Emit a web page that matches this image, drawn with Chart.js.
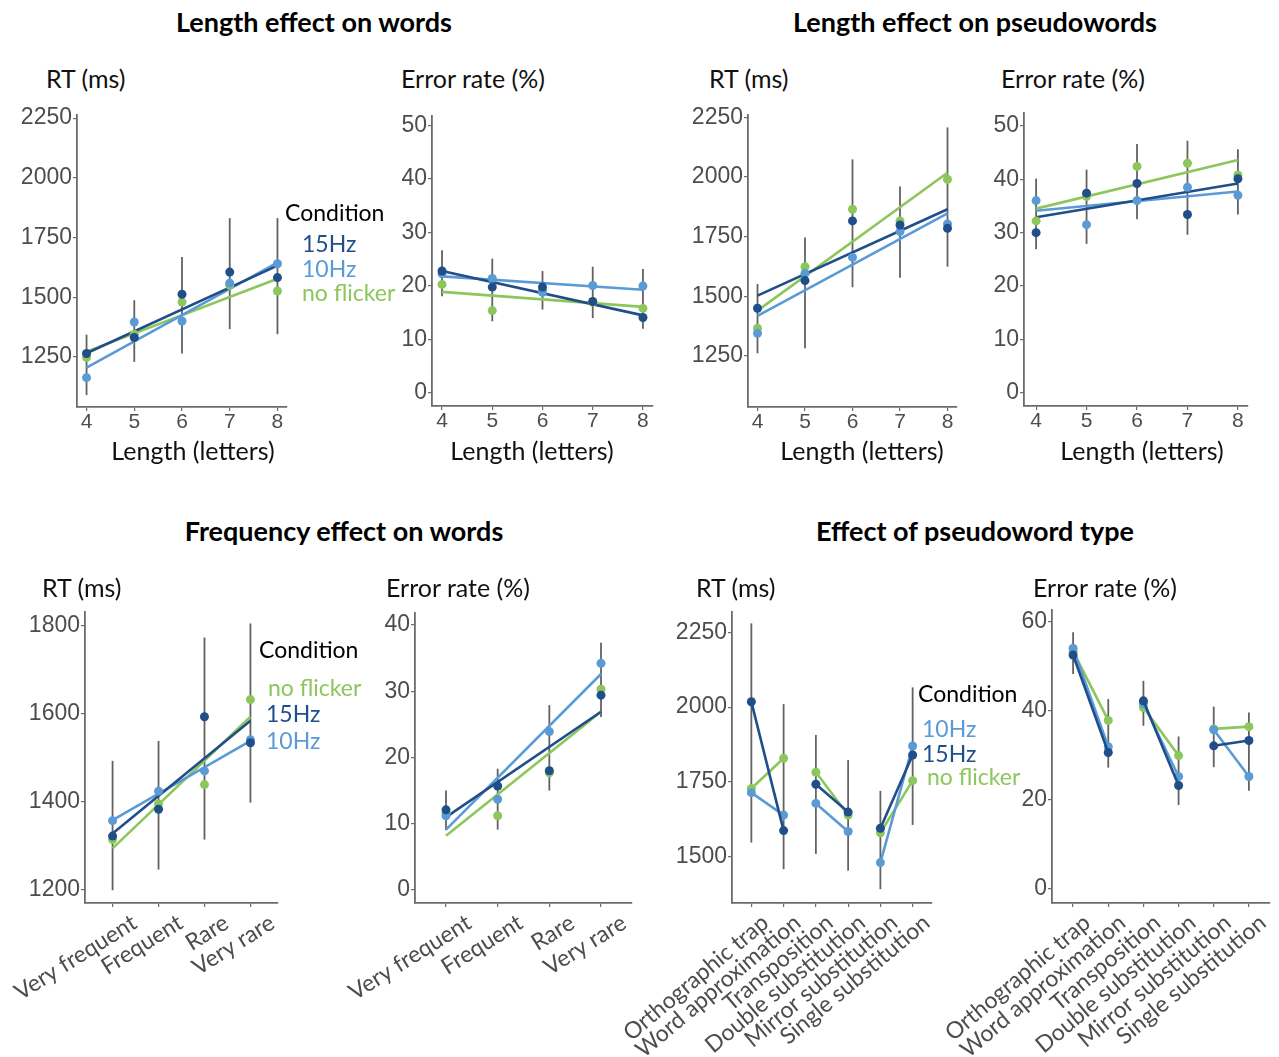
<!DOCTYPE html>
<html><head><meta charset="utf-8">
<script src="https://cdn.jsdelivr.net/npm/chart.js@4.4.1/dist/chart.umd.min.js"></script>
<style>
html,body{margin:0;padding:0;background:#fff}
body{width:1279px;height:1057px;position:relative;overflow:hidden;font-family:Lato,"Open Sans",sans-serif}
canvas{position:absolute}
.t{position:absolute;white-space:nowrap;height:30px;line-height:30px}
</style></head><body>
<script>
// ---------- DATA ----------
const conditions = ['15Hz', '10Hz', 'no flicker'];
const lengthTicks = [4, 5, 6, 7, 8];
const freqCats = ['Very frequent', 'Frequent', 'Rare', 'Very rare'];
const typeCats = ['Orthographic trap', 'Word approximation', 'Transposition', 'Double substitution', 'Mirror substitution', 'Single substitution'];
const typePairs = [1, 1, 2, 2, 3, 3];
const fitEndsLength = [4, 8];
const fitEndsFreq = [1, 4];

const rtLenTicks = [1250, 1500, 1750, 2000, 2250];
const errLenTicks = [0, 10, 20, 30, 40, 50];
const rtFreqTicks = [1200, 1400, 1600, 1800];
const errFreqTicks = [0, 10, 20, 30, 40];
const rtTypeTicks = [1500, 1750, 2000, 2250];
const errTypeTicks = [0, 20, 40, 60];

// Length effect on words - RT
const lwRT_15 = [1264, 1331, 1512, 1605, 1582];
const lwRT_10 = [1163, 1396, 1400, 1559, 1640];
const lwRT_nf = [1248, 1345, 1480, 1550, 1526];
const lwRT_lo = [1090, 1229, 1264, 1366, 1345];
const lwRT_hi = [1343, 1487, 1668, 1831, 1831];
const lwRT_fit15 = [1265, 1632];
const lwRT_fit10 = [1205, 1645];
const lwRT_fitNf = [1272, 1577];

// Length effect on words - error
const lwER_15 = [22.8, 19.8, 19.8, 17.1, 14.1];
const lwER_10 = [22.3, 21.4, 18.8, 20.1, 20.0];
const lwER_nf = [20.3, 15.4, 19.2, 17.0, 15.8];
const lwER_lo = [18.1, 13.4, 15.6, 14.0, 12.0];
const lwER_hi = [26.7, 25.1, 22.8, 23.6, 23.2];
const lwER_fit15 = [22.8, 14.5];
const lwER_fit10 = [21.8, 19.3];
const lwER_fitNf = [18.9, 16.1];

// Length effect on pseudowords - RT
const lpRT_15 = [1450, 1566, 1816, 1799, 1785];
const lpRT_10 = [1345, 1596, 1663, 1771, 1803];
const lpRT_nf = [1366, 1624, 1865, 1816, 1990];
const lpRT_lo = [1261, 1282, 1538, 1578, 1624];
const lpRT_hi = [1552, 1747, 2074, 1960, 2208];
const lpRT_fit15 = [1503, 1865];
const lpRT_fit10 = [1418, 1848];
const lpRT_fitNf = [1440, 2018];

// Length effect on pseudowords - error
const lpER_15 = [30.0, 37.4, 39.2, 33.4, 40.1];
const lpER_10 = [36.0, 31.5, 36.0, 38.5, 37.0];
const lpER_nf = [32.2, 36.8, 42.4, 43.0, 40.8];
const lpER_lo = [26.9, 27.9, 32.5, 29.6, 33.4];
const lpER_hi = [40.1, 41.8, 46.6, 47.2, 45.6];
const lpER_fit15 = [32.9, 39.2];
const lpER_fit10 = [34.1, 37.7];
const lpER_fitNf = [34.5, 43.6];

// Frequency effect on words - RT
const fwRT_15 = [1321, 1382, 1592, 1533];
const fwRT_10 = [1356, 1423, 1469, 1540];
const fwRT_nf = [1313, 1394, 1438, 1631];
const fwRT_lo = [1198, 1245, 1313, 1397];
const fwRT_hi = [1492, 1537, 1772, 1804];
const fwRT_fit15 = [1327, 1583];
const fwRT_fit10 = [1357, 1537];
const fwRT_fitNf = [1293, 1592];

// Frequency effect on words - error
const fwER_15 = [12.1, 15.7, 18.0, 29.4];
const fwER_10 = [11.2, 13.7, 23.9, 34.2];
const fwER_nf = [11.6, 11.2, 17.7, 30.3];
const fwER_lo = [9.0, 9.1, 15.0, 26.1];
const fwER_hi = [15.0, 18.3, 27.9, 37.3];
const fwER_fit15 = [11.0, 26.9];
const fwER_fit10 = [9.1, 32.6];
const fwER_fitNf = [8.2, 26.9];

// Effect of pseudoword type - RT
const ptRT_15 = [2018, 1587, 1742, 1649, 1595, 1840];
const ptRT_10 = [1714, 1639, 1678, 1584, 1480, 1870];
const ptRT_nf = [1728, 1829, 1782, 1639, 1580, 1754];
const ptRT_lo = [1547, 1458, 1509, 1453, 1391, 1606];
const ptRT_hi = [2280, 2010, 1907, 1823, 1720, 2066];

// Effect of pseudoword type - error
const ptER_15 = [52.5, 30.6, 42.2, 23.2, 32.1, 33.3];
const ptER_10 = [54.0, 31.9, 41.6, 25.2, 35.7, 25.2];
const ptER_nf = [53.3, 37.8, 40.7, 29.9, 35.9, 36.4];
const ptER_lo = [48.2, 27.2, 36.6, 18.8, 27.3, 22.0];
const ptER_hi = [57.6, 42.6, 46.7, 34.2, 40.9, 39.6];

// ---------- STYLE ----------
const COL = {'15Hz': '#1f4e89', '10Hz': '#5b9bd5', 'no flicker': '#8dc65c'};
const TICK_COL = '#4d4d4d';
const AXIS_COL = '#6b6b6b';
const TP = 15, RP = 12;

const errPlugin = {
  id: 'errbars',
  beforeDatasetsDraw(chart, args, o) {
    if (!o || !o.x) return;
    const {ctx} = chart, xs = chart.scales.x, ys = chart.scales.y;
    ctx.save();
    ctx.strokeStyle = 'rgba(70,70,70,0.85)';
    ctx.lineWidth = 1.8;
    o.x.forEach((xv, i) => {
      const px = xs.getPixelForValue(xv);
      ctx.beginPath();
      ctx.moveTo(px, ys.getPixelForValue(o.lo[i]));
      ctx.lineTo(px, ys.getPixelForValue(o.hi[i]));
      ctx.stroke();
    });
    ctx.restore();
  }
};

function addText(str, x, y, opt) {
  const d = document.createElement('div');
  d.className = 't';
  d.textContent = str;
  d.style.fontSize = (opt.size || 22) + 'px';
  d.style.fontWeight = opt.weight || 'normal';
  d.style.color = opt.color || '#111';
  d.style.top = (y - 15) + 'px';
  if (opt.center) { d.style.left = x + 'px'; d.style.transform = 'translateX(-50%)'; }
  else d.style.left = x + 'px';
  document.body.appendChild(d);
}

function panel(g, p) {
  const cv = document.createElement('canvas');
  const W = g.right - g.left + g.yw + RP;
  const H = g.bottom - g.top + TP + g.xh;
  cv.width = W; cv.height = H;
  cv.style.width = W + 'px'; cv.style.height = H + 'px';
  cv.style.left = (g.left - g.yw) + 'px';
  cv.style.top = (g.top - TP) + 'px';
  document.body.appendChild(cv);

  const datasets = [];
  conditions.forEach((c, ci) => {
    const vals = p.series[c];
    if (p.fits) {
      datasets.push({
        type: 'scatter', data: p.xs.map((x, i) => ({x, y: vals[i]})),
        backgroundColor: COL[c], pointRadius: 4.5, pointBorderWidth: 0, showLine: false, order: 0
      });
      const f = p.fits[c];
      datasets.push({
        type: 'line', data: p.fitX.map((x, i) => ({x, y: f[i]})),
        borderColor: COL[c], borderWidth: 2.6, pointRadius: 0, fill: false, order: 1
      });
    } else {
      datasets.push({
        type: 'line', data: p.xs.map((x, i) => ({x, y: vals[i]})),
        borderColor: COL[c], backgroundColor: COL[c], borderWidth: 2.6,
        pointRadius: 4.5, pointBorderWidth: 0, fill: false, order: 0,
        segment: {borderColor: s => (p.groups[s.p0DataIndex] === p.groups[s.p1DataIndex] ? COL[c] : 'rgba(0,0,0,0)')}
      });
    }
  });

  const zeroPad = s => { s.paddingLeft = 0; s.paddingRight = 0; s.paddingTop = 0; s.paddingBottom = 0; };
  new Chart(cv, {
    type: 'scatter',
    data: {datasets},
    options: {
      responsive: false, animation: false, devicePixelRatio: 1,
      layout: {padding: {top: TP, right: RP, left: 0, bottom: 0}},
      plugins: {legend: {display: false}, tooltip: {enabled: false}, errbars: {x: p.xs, lo: p.lo, hi: p.hi}},
      scales: {
        x: {
          type: 'linear', min: g.xMin, max: g.xMax,
          afterBuildTicks: s => { s.ticks = p.xTicks.map(v => ({value: v})); },
          afterFit: s => { s.height = g.xh; zeroPad(s); },
          border: {display: true, color: AXIS_COL, width: 1.8},
          grid: {display: true, drawOnChartArea: false, drawTicks: true, tickLength: 4, color: AXIS_COL, lineWidth: 1.2},
          ticks: {
            autoSkip: false, padding: p.xLabels ? 2 : -1,
            minRotation: p.rot || 0, maxRotation: p.rot || 0,
            labelOffset: p.labelOffset || 0,
            color: TICK_COL,
            font: p.xLabels ? {family: 'Lato', size: 23} : {family: 'Liberation Sans', size: 21},
            callback: v => p.xLabels ? p.xLabels[v - 1] : String(v)
          }
        },
        y: {
          type: 'linear', min: g.yMin, max: g.yMax,
          afterBuildTicks: s => { s.ticks = p.yTicks.map(v => ({value: v})); },
          afterFit: s => { s.width = g.yw; zeroPad(s); },
          border: {display: true, color: AXIS_COL, width: 1.8},
          grid: {display: true, drawOnChartArea: false, drawTicks: true, tickLength: 4, color: AXIS_COL, lineWidth: 1.2},
          ticks: {padding: 1, color: TICK_COL, font: {family: 'Liberation Sans', size: 23}, callback: v => String(v)}
        }
      }
    },
    plugins: [errPlugin]
  });
}

const S = (a, b, c) => ({'15Hz': a, '10Hz': b, 'no flicker': c});
const idx = arr => arr.map((_, i) => i + 1);

panel({left: 77, right: 287, top: 115, bottom: 407, yMin: 1040, yMax: 2263, xMin: 3.8, xMax: 8.2, yw: 80, xh: 40},
  {xs: lengthTicks, xTicks: lengthTicks, yTicks: rtLenTicks, series: S(lwRT_15, lwRT_10, lwRT_nf),
   fits: S(lwRT_fit15, lwRT_fit10, lwRT_fitNf), fitX: fitEndsLength, lo: lwRT_lo, hi: lwRT_hi});
panel({left: 432, right: 653, top: 116, bottom: 406, yMin: -2.45, yMax: 51.8, xMin: 3.8, xMax: 8.2, yw: 80, xh: 40},
  {xs: lengthTicks, xTicks: lengthTicks, yTicks: errLenTicks, series: S(lwER_15, lwER_10, lwER_nf),
   fits: S(lwER_fit15, lwER_fit10, lwER_fitNf), fitX: fitEndsLength, lo: lwER_lo, hi: lwER_hi});
panel({left: 748, right: 957, top: 115, bottom: 407, yMin: 1036, yMax: 2260, xMin: 3.8, xMax: 8.2, yw: 80, xh: 40},
  {xs: lengthTicks, xTicks: lengthTicks, yTicks: rtLenTicks, series: S(lpRT_15, lpRT_10, lpRT_nf),
   fits: S(lpRT_fit15, lpRT_fit10, lpRT_fitNf), fitX: fitEndsLength, lo: lpRT_lo, hi: lpRT_hi});
panel({left: 1024, right: 1248, top: 113, bottom: 406, yMin: -2.45, yMax: 52.4, xMin: 3.76, xMax: 8.2, yw: 80, xh: 40},
  {xs: lengthTicks, xTicks: lengthTicks, yTicks: errLenTicks, series: S(lpER_15, lpER_10, lpER_nf),
   fits: S(lpER_fit15, lpER_fit10, lpER_fitNf), fitX: fitEndsLength, lo: lpER_lo, hi: lpER_hi});

panel({left: 85, right: 278, top: 612, bottom: 903, yMin: 1169, yMax: 1830, xMin: 0.4, xMax: 4.6, yw: 85, xh: 150},
  {xs: idx(freqCats), xTicks: idx(freqCats), xLabels: freqCats, rot: 32, labelOffset: 22, yTicks: rtFreqTicks, series: S(fwRT_15, fwRT_10, fwRT_nf),
   fits: S(fwRT_fit15, fwRT_fit10, fwRT_fitNf), fitX: fitEndsFreq, lo: fwRT_lo, hi: fwRT_hi});
panel({left: 415, right: 632, top: 613, bottom: 903, yMin: -1.96, yMax: 41.8, xMin: 0.4, xMax: 4.6, yw: 100, xh: 150},
  {xs: idx(freqCats), xTicks: idx(freqCats), xLabels: freqCats, rot: 32, labelOffset: 23, yTicks: errFreqTicks, series: S(fwER_15, fwER_10, fwER_nf),
   fits: S(fwER_fit15, fwER_fit10, fwER_fitNf), fitX: fitEndsFreq, lo: fwER_lo, hi: fwER_hi});
panel({left: 732, right: 932, top: 612, bottom: 903, yMin: 1345, yMax: 2318, xMin: 0.4, xMax: 6.6, yw: 140, xh: 154},
  {xs: idx(typeCats), xTicks: idx(typeCats), xLabels: typeCats, rot: 40, labelOffset: 14, groups: typePairs, yTicks: rtTypeTicks,
   series: S(ptRT_15, ptRT_10, ptRT_nf), lo: ptRT_lo, hi: ptRT_hi});
panel({left: 1052, right: 1270, top: 610, bottom: 903, yMin: -3.2, yMax: 62.6, xMin: 0.4, xMax: 6.6, yw: 140, xh: 154},
  {xs: idx(typeCats), xTicks: idx(typeCats), xLabels: typeCats, rot: 40, labelOffset: 14, groups: typePairs, yTicks: errTypeTicks,
   series: S(ptER_15, ptER_10, ptER_nf), lo: ptER_lo, hi: ptER_hi});

// ---------- TEXT ----------
const TT = {size: 27, weight: 'bold', color: '#000', center: true};
addText('Length effect on words', 314, 22, TT);
addText('Length effect on pseudowords', 975, 22, TT);
addText('Frequency effect on words', 344, 531, TT);
addText('Effect of pseudoword type', 975, 531, TT);

const AX = {size: 25, color: '#111'};
addText('RT (ms)', 46, 78, AX);
addText('Error rate (%)', 401, 78, AX);
addText('RT (ms)', 709, 78, AX);
addText('Error rate (%)', 1001, 78, AX);
addText('RT (ms)', 42, 587, AX);
addText('Error rate (%)', 386, 587, AX);
addText('RT (ms)', 696, 587, AX);
addText('Error rate (%)', 1033, 587, AX);
const XT = {size: 25, color: '#111', center: true};
addText('Length (letters)', 193, 450, XT);
addText('Length (letters)', 532, 450, XT);
addText('Length (letters)', 862, 450, XT);
addText('Length (letters)', 1142, 450, XT);

function legend(x, y, order, x2, dys) {
  addText('Condition', x, y, {size: 23, color: '#000'});
  order.forEach((c, i) => addText(c, x2[i], y + dys[i], {size: 23, color: COL[c]}));
}
legend(285, 212, ['15Hz', '10Hz', 'no flicker'], [302, 302, 302], [31, 56, 80]);
legend(259, 649, ['no flicker', '15Hz', '10Hz'], [268, 266, 266], [38, 64, 91]);
legend(918, 693, ['10Hz', '15Hz', 'no flicker'], [922, 922, 927], [35, 60, 83]);
</script>
</body></html>
